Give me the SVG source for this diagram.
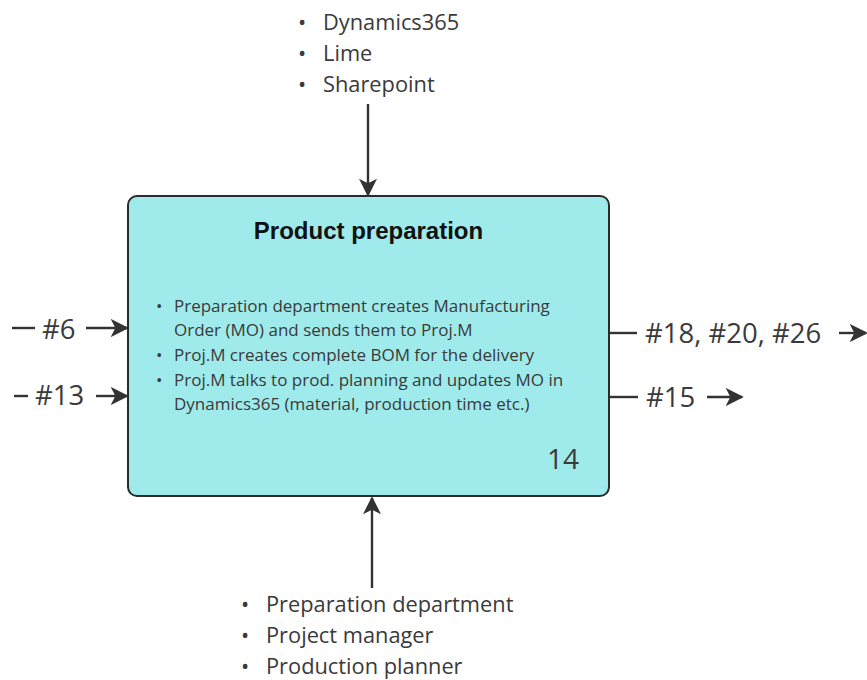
<svg xmlns="http://www.w3.org/2000/svg" width="867" height="680" viewBox="0 0 867 680">
  <style>
    .lbl { font-family: "Open Sans", "Liberation Sans", sans-serif; fill: #3a3a3a; }
    .big { font-size: 27.5px; }
    .list { font-size: 21.8px; }
    .body { font-size: 17px; }
    .title { font-family: "Liberation Sans", Arial, sans-serif; font-weight: bold; font-size: 24px; fill: #111; }
    .wire { stroke: #333; stroke-width: 2.4; fill: none; }
    .arr { marker-end: url(#head); }
  </style>
  <defs>
    <marker id="head" viewBox="0 0 10 10" refX="9" refY="5" markerWidth="7.5" markerHeight="7.5" markerUnits="strokeWidth" orient="auto">
      <path d="M0,0 L10,5 L0,10 L2.5,5 Z" fill="#333"/>
    </marker>
  </defs>
  <rect width="867" height="680" fill="#fff"/>

  <!-- process box -->
  <g id="node-14">
    <rect x="128" y="196" width="481" height="300" rx="9" fill="#9feaea" stroke="#2b2b2b" stroke-width="2"/>
    <text class="title" x="368.5" y="239" text-anchor="middle">Product preparation</text>
    <g class="lbl body">
      <text x="156" y="312">•</text>
      <text x="174" y="312">Preparation department creates Manufacturing</text>
      <text x="174" y="336">Order (MO) and sends them to Proj.M</text>
      <text x="156" y="361">•</text>
      <text x="174" y="361">Proj.M creates complete BOM for the delivery</text>
      <text x="156" y="386">•</text>
      <text x="174" y="386">Proj.M talks to prod. planning and updates MO in</text>
      <text x="174" y="410">Dynamics365 (material, production time etc.)</text>
    </g>
    <text class="lbl" font-size="28" x="579" y="469" text-anchor="end">14</text>
  </g>

  <!-- controls / mechanisms -->
  <g id="node-systems" class="lbl list">
    <text x="298" y="30">•</text><text x="323" y="30">Dynamics365</text>
    <text x="298" y="61">•</text><text x="323" y="61">Lime</text>
    <text x="298" y="92">•</text><text x="323" y="92">Sharepoint</text>
  </g>
  <g id="node-roles" class="lbl list">
    <text x="241" y="612">•</text><text x="266" y="612">Preparation department</text>
    <text x="241" y="643">•</text><text x="266" y="643">Project manager</text>
    <text x="241" y="674">•</text><text x="266" y="674">Production planner</text>
  </g>

  <!-- input / output labels -->
  <g id="node-in6"><text class="lbl big" x="42" y="339">#6</text></g>
  <g id="node-in13"><text class="lbl big" x="35" y="405">#13</text></g>
  <g id="node-out18"><text class="lbl big" font-size="29" x="645" y="343">#18, #20, #26</text></g>
  <g id="node-out15"><text class="lbl big" font-size="28.5" x="646" y="407">#15</text></g>

  <!-- connectors -->
  <g id="connectors" class="wire">
    <line x1="368" y1="104" x2="368" y2="195" class="arr"/>
    <line x1="372" y1="588" x2="372" y2="498" class="arr"/>
    <line x1="12" y1="328" x2="35" y2="328"/>
    <line x1="86" y1="328" x2="127" y2="328" class="arr"/>
    <line x1="14" y1="396" x2="28" y2="396"/>
    <line x1="96" y1="396" x2="127" y2="396" class="arr"/>
    <line x1="610" y1="333" x2="637" y2="333"/>
    <line x1="839" y1="333" x2="866" y2="333" class="arr"/>
    <line x1="610" y1="397" x2="638" y2="397"/>
    <line x1="707" y1="397" x2="742" y2="397" class="arr"/>
  </g>
</svg>
